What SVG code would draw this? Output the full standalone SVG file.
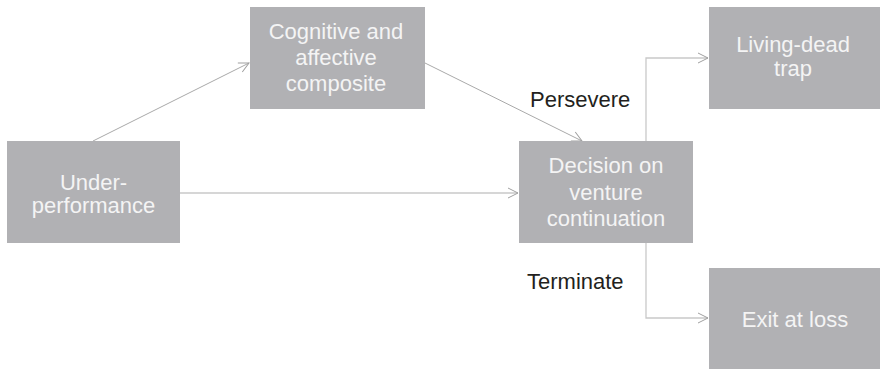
<svg xmlns="http://www.w3.org/2000/svg" width="880" height="369" viewBox="0 0 880 369">
<style>
.box{fill:#b1b1b4}
.nt{font-family:"Liberation Sans",Arial,sans-serif;font-size:22px;fill:#f4f4f4;text-anchor:middle}
.lbl{font-family:"Liberation Sans",Arial,sans-serif;font-size:22px;fill:#231f20}
.c{fill:none;stroke:#c9c9c9;stroke-width:1.3}
.d{fill:none;stroke:#a9a9a9;stroke-width:1}
</style>
<defs>
<marker id="ah" markerUnits="userSpaceOnUse" markerWidth="14" markerHeight="14" refX="11" refY="6" orient="auto">
<path d="M1,1 L11,6 L1,11" fill="none" stroke="#a0a0a0" stroke-width="1"/>
</marker>
</defs>
<rect width="880" height="369" fill="#ffffff"/>
<g id="connectors">
<line class="d" x1="93" y1="141" x2="249" y2="63" marker-end="url(#ah)"/>
<line class="d" x1="425" y1="63" x2="582" y2="141" marker-end="url(#ah)"/>
<line class="c" x1="180" y1="193" x2="518" y2="193" marker-end="url(#ah)"/>
<polyline class="c" points="646,141 646,58 708,58" marker-end="url(#ah)"/>
<polyline class="c" points="646,243 646,318 708,318" marker-end="url(#ah)"/>
</g>
<g id="underperformance">
<rect class="box" x="7" y="141" width="173" height="102"/>
<text class="nt" x="93.5" y="190">Under-</text>
<text class="nt" x="93.5" y="213">performance</text>
</g>
<g id="cognitive">
<rect class="box" x="250" y="7" width="175" height="102"/>
<text class="nt" x="336" y="39">Cognitive and</text>
<text class="nt" x="336" y="65">affective</text>
<text class="nt" x="336" y="91">composite</text>
</g>
<g id="decision">
<rect class="box" x="519" y="141" width="174" height="102"/>
<text class="nt" x="606" y="173">Decision on</text>
<text class="nt" x="606" y="200">venture</text>
<text class="nt" x="606" y="226">continuation</text>
</g>
<g id="livingdead">
<rect class="box" x="709" y="7" width="171" height="102"/>
<text class="nt" x="793" y="52">Living-dead</text>
<text class="nt" x="793" y="76">trap</text>
</g>
<g id="exit">
<rect class="box" x="709" y="268" width="171" height="101"/>
<text class="nt" x="795" y="327">Exit at loss</text>
</g>
<g id="labels">
<text class="lbl" x="530" y="107">Persevere</text>
<text class="lbl" x="527" y="289">Terminate</text>
</g>
</svg>
